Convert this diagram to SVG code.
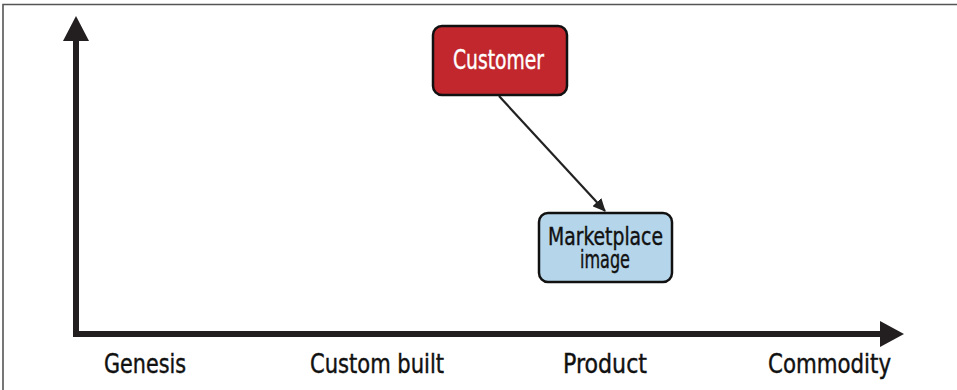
<svg xmlns="http://www.w3.org/2000/svg" width="957" height="390" viewBox="0 0 957 390">
<style>
.lbl{font-family:"DejaVu Sans Condensed","DejaVu Sans",sans-serif;font-stretch:condensed;font-size:26px;fill:#111;stroke:#111;stroke-width:0.4;}
.wt{fill:#fff;stroke:#fff;}
.node rect{stroke:#111;stroke-width:2.5;}
.frame{stroke:#555;stroke-width:1.6;fill:none;}
</style>
<defs>
<marker id="ah" markerWidth="13" markerHeight="12" refX="12" refY="6" orient="auto" markerUnits="userSpaceOnUse" viewBox="0 0 13 12">
<path d="M0,0 L13,6 L0,12 z" fill="#222"/>
</marker>
</defs>
<rect width="957" height="390" fill="#fff"/>
<path class="frame" d="M3,390 V4.5 H957"/>
<g id="axes">
<path d="M76,336 V38" stroke="#231f20" stroke-width="6" fill="none"/>
<path d="M63,41 L76,16 L89,41 z" fill="#231f20"/>
<path d="M73,334 H882" stroke="#231f20" stroke-width="6" fill="none"/>
<path d="M880,321 L904,334 L880,347 z" fill="#231f20"/>
</g>
<g id="labels">
<text class="lbl" x="104" y="373" textLength="82" lengthAdjust="spacingAndGlyphs">Genesis</text>
<text class="lbl" x="310" y="373" textLength="134" lengthAdjust="spacingAndGlyphs">Custom built</text>
<text class="lbl" x="563" y="373" textLength="84" lengthAdjust="spacingAndGlyphs">Product</text>
<text class="lbl" x="768" y="373" textLength="123" lengthAdjust="spacingAndGlyphs">Commodity</text>
</g>
<g id="connectors">
<line x1="499" y1="96" x2="605" y2="211" stroke="#222" stroke-width="2.2" marker-end="url(#ah)"/>
</g>
<g id="customer" class="node">
<rect x="433" y="26" width="134" height="69" rx="9" fill="#c1272d"/>
<text class="lbl wt" x="453" y="69" textLength="91" lengthAdjust="spacingAndGlyphs">Customer</text>
</g>
<g id="marketplace" class="node">
<rect x="539" y="213" width="133" height="69" rx="9" fill="#b4d5ea"/>
<text class="lbl" x="548" y="245" textLength="115" lengthAdjust="spacingAndGlyphs" style="font-size:25px">Marketplace</text>
<text class="lbl" x="580" y="268" textLength="50" lengthAdjust="spacingAndGlyphs" style="font-size:25px">image</text>
</g>
</svg>
